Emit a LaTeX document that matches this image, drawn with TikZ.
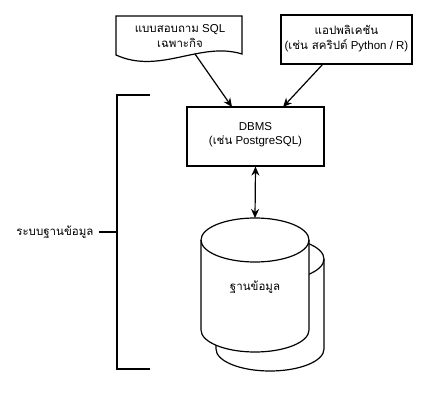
\documentclass[tikz,border=0pt]{standalone}
\usepackage{fontspec}
\setmainfont{Liberation Sans}
\newfontfamily\thf[Script=Thai]{Loma}
\usetikzlibrary{arrows.meta}
\begin{document}
\begin{tikzpicture}[x=1pt,y=-1pt,line width=1.2pt,
  txt/.style={align=center,font=\fontsize{11.5}{14.5}\selectfont,inner sep=0pt},
  shapeline/.style={draw=black,line width=1.2pt,fill=white},
  arr/.style={-{Stealth[length=9pt,width=8pt]},line width=1.2pt},
  darr/.style={{Stealth[length=9pt,width=8pt]}-{Stealth[length=9pt,width=8pt]},line width=1.2pt},
  brk/.style={line width=2pt}]
\useasboundingbox (0,0) rectangle (426,393);
\fill[white] (0,0) rectangle (426,393);
% document shape
\draw[shapeline] (116,16) -- (242,16) -- (242,54)
  .. controls (200,41) and (160,75) .. (116,55) -- cycle;
\node[txt] (doc) at (180,36) {{\thf แบบสอบถาม} SQL\\{\thf เฉพาะกิจ}};
\coordinate (docout) at (195,54);
% application box
\node[shapeline,minimum width=131pt,minimum height=49pt,inner sep=0pt] (app) at (346.5,39.5) {};
\node[txt] (apptxt) at ([yshift=1pt]app.center) {{\thf แอปพลิเคชัน}\\({\thf เช่น สคริปต์} Python / R)};
% DBMS box
\node[shapeline,minimum width=137pt,minimum height=59pt,inner sep=0pt] (dbms) at (255.5,136.5) {};
\node[txt] (dbmstxt) at ([yshift=2pt]dbms.center) {DBMS\\({\thf เช่น} PostgreSQL)};
\coordinate (dbmsin1) at (232,107);
\coordinate (dbmsin2) at (283,107);
\coordinate (appout) at (323,64);
\draw[arr] (docout) -- (dbmsin1);
\draw[arr] (appout) -- (dbmsin2);
% back cylinder
\draw[shapeline] (216,259) -- (216,349) arc[start angle=180,end angle=360,x radius=54,y radius=-22]
  -- (324,259) arc[start angle=0,end angle=180,x radius=54,y radius=-22];
\draw (216,259) arc[start angle=180,end angle=360,x radius=54,y radius=-22];
% front cylinder
\draw[shapeline] (201,240) -- (201,330) arc[start angle=180,end angle=360,x radius=54,y radius=-22]
  -- (309,240) arc[start angle=0,end angle=180,x radius=54,y radius=-22];
\draw (201,240) arc[start angle=180,end angle=360,x radius=54,y radius=-22];
\coordinate (db) at (255,218);
\node[txt] (dbtxt) at (255,287) {\thf ฐานข้อมูล};
\draw[darr] (dbms.south) -- (db);
% bracket
\coordinate (bt) at (150,95);
\coordinate (bb) at (150,369);
\coordinate (bm) at (117,232);
\draw[brk] (bt) -- (117,95) -- (117,369) -- (bb);
\node[txt,anchor=east] (sys) at (94,232) {\thf ระบบฐานข้อมูล};
\draw[brk] (sys.east) ++(5,0) -- (bm);
\end{tikzpicture}
\end{document}
